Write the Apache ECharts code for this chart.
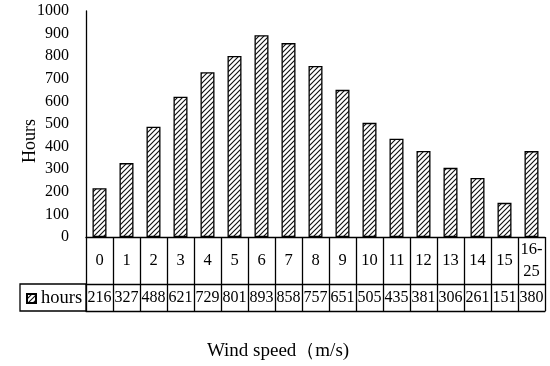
<!DOCTYPE html>
<html>
<head>
<meta charset="utf-8">
<script src="https://cdn.jsdelivr.net/npm/echarts@6/dist/echarts.min.js"></script>
<style>html,body{margin:0;padding:0;background:#fff}#c{width:550px;height:366px}</style>
</head>
<body>
<div id="c"></div>
<script>
const categories = ['0','1','2','3','4','5','6','7','8','9','10','11','12','13','14','15','16-25'];
const hours = [216,327,488,621,729,801,893,858,757,651,505,435,381,306,261,151,380];
const seriesName = 'hours';
const yMin = 0, yMax = 1000, yStep = 100;
const xTitle = 'Wind speed（m/s)';
const yTitle = 'Hours';

const FONT = "'Liberation Serif','Times New Roman',serif";

function hatch() {
  const s = 5;
  const cv = document.createElement('canvas');
  cv.width = s; cv.height = s;
  const g = cv.getContext('2d');
  g.fillStyle = '#fff'; g.fillRect(0, 0, s, s);
  g.strokeStyle = '#111'; g.lineWidth = 1.15;
  g.beginPath();
  g.moveTo(-1, s + 1); g.lineTo(s + 1, -1);
  g.moveTo(-1, 1); g.lineTo(1, -1);
  g.moveTo(s - 1, s + 1); g.lineTo(s + 1, s - 1);
  g.stroke();
  return cv;
}
const pattern = { image: hatch(), repeat: 'repeat' };

const chart = echarts.init(document.getElementById('c'), null, { renderer: 'canvas' });
const black = '#000';
chart.setOption({
  animation: false,
  textStyle: { fontFamily: FONT, color: black },
  grid: { left: 86, right: 5, top: 11, bottom: 129, containLabel: false },
  legend: {
    data: [seriesName], left: 26, top: 289, itemWidth: 9, itemHeight: 9, itemGap: 0,
    icon: 'rect', padding: 0,
    textStyle: { fontFamily: FONT, fontSize: 18.5, color: black, padding: [0, 0, 0, 0] }
  },
  xAxis: [
    {
      type: 'category', data: categories, position: 'bottom',
      axisLine: { lineStyle: { color: black, width: 1.3 } },
      axisTick: { show: true, length: 74, interval: 0, lineStyle: { color: black, width: 1.3 } },
      axisLabel: {
        interval: 0, margin: 24, verticalAlign: 'middle', lineHeight: 22,
        fontSize: 16.5, fontFamily: FONT, color: black,
        formatter: v => v.replace('-', '-\n')
      }
    },
    {
      type: 'category', data: hours.map(String), position: 'bottom', offset: 47,
      axisLine: { show: true, lineStyle: { color: black, width: 1.3 } },
      axisTick: { show: false },
      axisLabel: { interval: 0, margin: 13.5, verticalAlign: 'middle', fontSize: 16, fontFamily: FONT, color: black }
    },
    {
      type: 'category', data: categories, position: 'bottom', offset: 74,
      axisLine: { show: true, lineStyle: { color: black, width: 1.3 } },
      axisTick: { show: false }, axisLabel: { show: false }
    }
  ],
  yAxis: {
    type: 'value', min: yMin, max: yMax, interval: yStep,
    axisLine: { show: true, lineStyle: { color: black, width: 1.3 } },
    axisTick: { show: false },
    splitLine: { show: false },
    axisLabel: { margin: 17, fontSize: 16, fontFamily: FONT, color: black, formatter: v => String(v) }
  },
  graphic: [
    { type: 'rect', shape: { x: 20, y: 284, width: 66, height: 27 }, style: { fill: 'none', stroke: black, lineWidth: 1.3 }, silent: true },
    { type: 'text', x: 30, y: 141, rotation: Math.PI / 2, style: { text: yTitle, font: "18px " + FONT, fill: black, align: 'center', verticalAlign: 'middle' } },
    { type: 'text', x: 278, y: 351, style: { text: xTitle, font: "19px " + FONT, fill: black, align: 'center', verticalAlign: 'middle' } }
  ],
  series: [{
    name: seriesName, type: 'bar', xAxisIndex: 0, data: hours, barWidth: 14,
    itemStyle: { color: pattern, borderColor: black, borderWidth: 1.3 }
  }]
});
</script>
</body>
</html>
